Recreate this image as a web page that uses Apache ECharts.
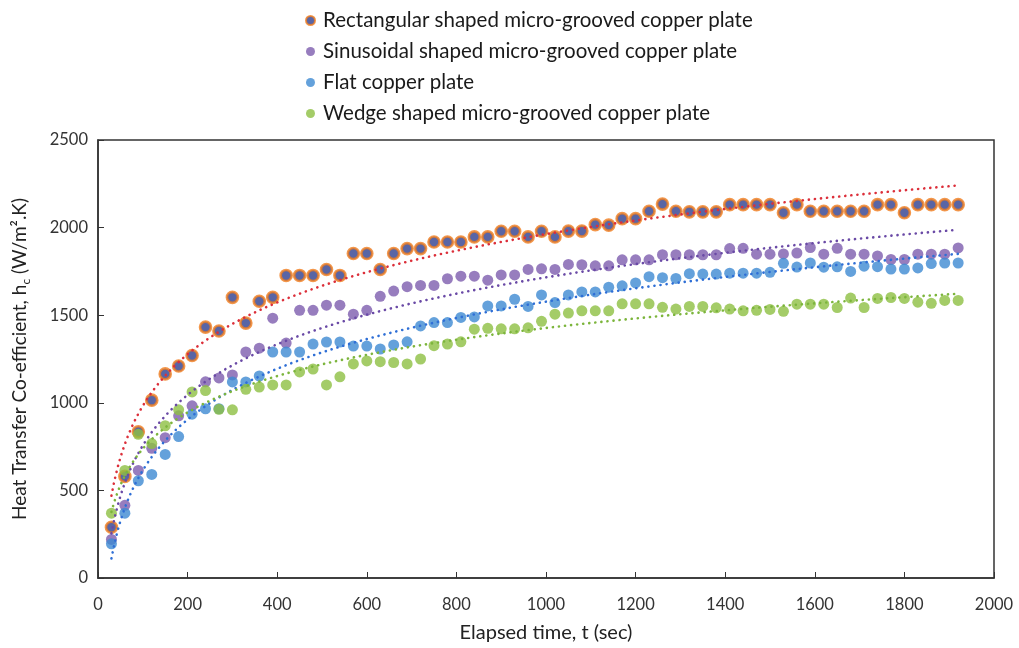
<!DOCTYPE html>
<html><head><meta charset="utf-8">
<script src="https://cdn.jsdelivr.net/npm/echarts@6/dist/echarts.min.js"></script>
<style>html,body{margin:0;padding:0;background:#fff}#c{width:1019px;height:648px}</style>
</head><body><div id="c"></div>
<script>
var times = [30,60,90,120,150,180,210,240,270,300,330,360,390,420,450,480,510,540,570,600,630,660,690,720,750,780,810,840,870,900,930,960,990,1020,1050,1080,1110,1140,1170,1200,1230,1260,1290,1320,1350,1380,1410,1440,1470,1500,1530,1560,1590,1620,1650,1680,1710,1740,1770,1800,1830,1860,1890,1920];
var rectangular = [290,580,835,1015,1165,1210,1270,1432,1410,1602,1455,1580,1602,1727,1727,1727,1761,1727,1852,1852,1761,1852,1880,1880,1918,1918,1918,1947,1947,1979,1979,1947,1979,1947,1980,1980,2017,2014,2051,2051,2093,2134,2093,2090,2090,2090,2131,2131,2131,2131,2085,2131,2093,2093,2093,2093,2093,2131,2131,2085,2131,2131,2131,2131];
var sinusoidal = [220,415,614,740,801,926,983,1120,1142,1159,1290,1312,1483,1341,1528,1528,1557,1557,1506,1528,1608,1638,1663,1670,1670,1708,1723,1723,1700,1730,1730,1761,1765,1761,1790,1788,1782,1782,1816,1816,1816,1845,1845,1845,1845,1845,1880,1882,1848,1848,1850,1855,1886,1848,1882,1848,1848,1838,1818,1818,1848,1848,1848,1884];
var flat = [195,370,555,591,705,807,935,966,966,1119,1119,1153,1290,1290,1290,1335,1347,1347,1324,1324,1307,1330,1348,1439,1458,1458,1487,1490,1553,1553,1591,1550,1616,1572,1616,1633,1633,1660,1668,1684,1720,1714,1710,1737,1735,1735,1740,1740,1740,1745,1796,1775,1798,1774,1776,1750,1780,1777,1763,1763,1770,1795,1798,1798];
var wedge = [370,614,820,767,869,960,1062,1070,963,960,1077,1090,1102,1102,1176,1193,1102,1148,1222,1239,1235,1230,1222,1250,1326,1335,1348,1420,1425,1422,1422,1428,1465,1506,1512,1525,1525,1525,1565,1565,1565,1545,1535,1550,1550,1542,1535,1525,1528,1533,1522,1563,1563,1563,1544,1598,1544,1596,1601,1596,1574,1568,1584,1584];
var seriesNames = ['Rectangular shaped micro-grooved copper plate','Sinusoidal shaped micro-grooved copper plate','Flat copper plate','Wedge shaped micro-grooved copper plate'];
var xTicks = [0,200,400,600,800,1000,1200,1400,1600,1800,2000];
var yTicks = [0,500,1000,1500,2000,2500];

var markerStyles = [
  {color:'#2f3f8f', borderColor:'#f07d1e', borderWidth:2.6},
  {color:'#7d5cae', borderColor:'#7d5cae', borderWidth:0},
  {color:'#3d89d2', borderColor:'#3d89d2', borderWidth:0},
  {color:'#8dbf42', borderColor:'#8dbf42', borderWidth:0}
];
var trendColors = ['#dc2f3a','#6a4aa6','#2f6fd6','#7cb53c'];
var allData = [rectangular, sinusoidal, flat, wedge];

function logFit(xs, ys){
  var n=xs.length, sx=0, sy=0, sxx=0, sxy=0;
  for(var i=0;i<n;i++){var lx=Math.log(xs[i]); sx+=lx; sy+=ys[i]; sxx+=lx*lx; sxy+=lx*ys[i];}
  var a=(n*sxy-sx*sy)/(n*sxx-sx*sx); var b=(sy-a*sx)/n; return [a,b];
}
function trendPoints(ys){
  var f=logFit(times, ys), pts=[];
  var t0=times[0], t1=times[times.length-1];
  for(var t=t0; t<=t1; t+=5){ pts.push([t, f[0]*Math.log(t)+f[1]]); }
  return pts;
}

var series = [];
for (var k=0;k<4;k++){
  series.push({
    name: seriesNames[k], type:'scatter', symbol:'circle', symbolSize:11,
    data: times.map(function(t,i){return [t, allData[k][i]];}),
    itemStyle: markerStyles[k], z: 2
  });
}
for (var k2=0;k2<4;k2++){
  series.push({
    name: 'trend'+k2, type:'line', showSymbol:false, silent:true, smooth:false,
    data: trendPoints(allData[k2]),
    lineStyle:{color:trendColors[k2], width:2.6, type:[0.1,6], cap:'round'}, z: 3
  });
}

var FONT = 'Lato';
var chart = echarts.init(document.getElementById('c'), null, {renderer:'canvas'});
chart.setOption({
  animation:false,
  backgroundColor:'#fff',
  textStyle:{fontFamily:FONT},
  legend:{
    data: seriesNames, orient:'vertical', left:300, top:5, itemGap:10,
    itemWidth:9, itemHeight:9, icon:'circle',
    textStyle:{fontFamily:FONT, fontSize:20.5, color:'#1a1a1a', padding:[0,0,0,3]}
  },
  grid:{left:98, right:25, top:140, bottom:68, show:true, borderColor:'#333', borderWidth:1.5, backgroundColor:'transparent'},
  xAxis:{
    type:'value', min:0, max:2000, interval:200,
    name:'Elapsed time, t (sec)', nameLocation:'middle', nameGap:45,
    nameTextStyle:{fontFamily:FONT, fontSize:20, color:'#222'},
    axisLine:{show:true, lineStyle:{color:'#333', width:1.5}},
    axisTick:{show:true, inside:true, length:6, lineStyle:{color:'#333'}},
    axisLabel:{fontFamily:FONT, fontSize:16.5, color:'#333', margin:18,
      formatter:function(v){return xTicks.indexOf(v)>=0 ? String(v) : '';}},
    splitLine:{show:false}
  },
  yAxis:{
    type:'value', min:0, max:2500, interval:500,
    name:'{a|Heat Transfer Co-efficient, h}{s|c}{a| (W/m².K)}', nameLocation:'middle', nameGap:66,
    nameTextStyle:{fontFamily:FONT, fontSize:19, color:'#222',
      rich:{a:{fontFamily:FONT, fontSize:19, color:'#222', lineHeight:24},
            s:{fontFamily:FONT, fontSize:12, color:'#222', lineHeight:24, verticalAlign:'bottom'}}},
    axisLine:{show:true, lineStyle:{color:'#333', width:1.5}},
    axisTick:{show:true, inside:true, length:6, lineStyle:{color:'#333'}},
    axisLabel:{fontFamily:FONT, fontSize:16.5, color:'#333', margin:10,
      formatter:function(v){return yTicks.indexOf(v)>=0 ? String(v) : '';}},
    splitLine:{show:false}
  },
  series: series
});
</script></body></html>
